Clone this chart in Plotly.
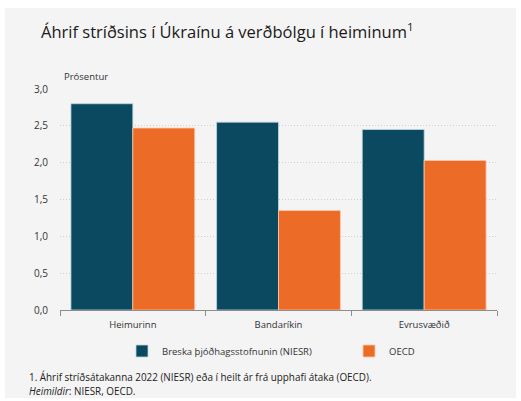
import plotly.graph_objects as go

categories = ["Heimurinn", "Bandaríkin", "Evrusvæðið"]
niesr = [2.80, 2.55, 2.45]
oecd = [2.47, 1.35, 2.03]
series_names = ["Breska þjóðhagsstofnunin (NIESR)", "OECD"]
y_ticks = [0, 0.5, 1.0, 1.5, 2.0, 2.5, 3.0]

NAVY = "#0b4961"
ORANGE = "#ec6b27"
FONT = "Open Sans, Liberation Sans, sans-serif"

L, R, T, B = 60, 24, 89, 91
W, H = 521, 401
pw, ph = W - L - R, H - T - B

def px(x):
    return (x - L) / pw

def py(y):
    return (H - B - y) / ph

fig = go.Figure()
fig.add_trace(go.Bar(x=categories, y=niesr, name=series_names[0], legend="legend",
                     marker=dict(color=NAVY, line=dict(color="rgba(190,215,225,0.8)", width=1))))
fig.add_trace(go.Bar(x=categories, y=oecd, name=series_names[1], legend="legend2",
                     marker=dict(color=ORANGE, line=dict(color="rgba(255,200,170,0.8)", width=1))))

fig.add_shape(type="rect", xref="paper", yref="paper", layer="below",
              x0=px(5), x1=px(516), y0=py(398), y1=py(8),
              fillcolor="#f4f4f4", line=dict(width=0))

fig.add_annotation(text="Áhrif stríðsins í Úkraínu á verðbólgu í heiminum<sup>1</sup>",
                   xref="paper", yref="paper", x=px(39), y=py(31), xanchor="left", yanchor="middle",
                   showarrow=False, font=dict(family=FONT, size=16.5, color="#1a1a1a"))
fig.add_annotation(text="Prósentur", xref="paper", yref="paper", x=px(62), y=py(76),
                   xanchor="left", yanchor="middle", showarrow=False,
                   font=dict(family=FONT, size=9.5, color="#333333"))
fig.add_annotation(text="1. Áhrif stríðsátakanna 2022 (NIESR) eða í heilt ár frá upphafi átaka (OECD).",
                   xref="paper", yref="paper", x=px(27), y=py(377), xanchor="left", yanchor="middle",
                   showarrow=False, font=dict(family=FONT, size=9.9, color="#222222"))
fig.add_annotation(text="<i>Heimildir</i>: NIESR, OECD.",
                   xref="paper", yref="paper", x=px(27), y=py(391), xanchor="left", yanchor="middle",
                   showarrow=False, font=dict(family=FONT, size=9.9, color="#222222"))

legend_common = dict(orientation="h", xref="container", yref="container",
                     yanchor="middle", y=(H - 351) / H, xanchor="left",
                     bgcolor="rgba(0,0,0,0)", itemwidth=30,
                     font=dict(family=FONT, size=9.5, color="#333333"))

fig.update_layout(
    width=W, height=H,
    margin=dict(l=L, r=R, t=T, b=B, autoexpand=False),
    paper_bgcolor="white", plot_bgcolor="rgba(0,0,0,0)",
    separators=",.",
    barmode="group", bargap=0.15, bargroupgap=0,
    font=dict(family=FONT, size=10, color="#333333"),
    showlegend=True,
    legend=dict(legend_common, x=122 / W),
    legend2=dict(legend_common, x=349 / W),
)
fig.update_xaxes(showline=True, linecolor="#8c8c8c", linewidth=1, automargin=False,
                 ticks="outside", tickson="boundaries", ticklen=5, tickcolor="#8c8c8c",
                 showgrid=False, tickfont=dict(size=9.5, color="#333333"),
                 ticklabelstandoff=6)
fig.update_yaxes(range=[0, 3.0], tickvals=y_ticks, tickformat=".1f", automargin=False,
                 showgrid=True, gridcolor="#cfcfcf", griddash="1px,2px", gridwidth=1,
                 zeroline=False, showline=False, ticks="",
                 tickfont=dict(size=10, color="#333333"), ticklabelstandoff=11)

fig.write_html("out.html", config={"displayModeBar": False},
               post_script="document.body.style.margin='0';")
